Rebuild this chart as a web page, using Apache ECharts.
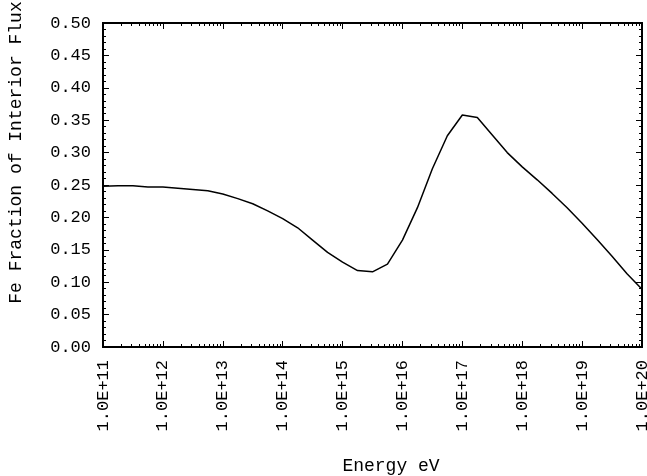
<!DOCTYPE html>
<html>
<head>
<meta charset="utf-8">
<script src="https://cdn.jsdelivr.net/npm/echarts@6/dist/echarts.min.js"></script>
<style>
  html, body { margin: 0; padding: 0; background: #fff; }
  #chart { width: 647px; height: 476px; }
</style>
</head>
<body>
<div id="chart"></div>
<script>
// energies (eV), quarter-decade sampling
const energies = [
  1e11, 1.78e11, 3.16e11, 5.62e11,
  1e12, 1.78e12, 3.16e12, 5.62e12,
  1e13, 1.78e13, 3.16e13, 5.62e13,
  1e14, 1.78e14, 3.16e14, 5.62e14,
  1e15, 1.78e15, 3.16e15, 5.62e15,
  1e16, 1.78e16, 3.16e16, 5.62e16,
  1e17, 1.78e17, 3.16e17, 5.62e17,
  1e18, 1.78e18, 3.16e18, 5.62e18,
  1e19, 1.78e19, 3.16e19, 5.62e19,
  1e20
]
const feFraction = [
  0.248, 0.249, 0.249, 0.247,
  0.247, 0.245, 0.243, 0.241,
  0.236, 0.229, 0.221, 0.210,
  0.198, 0.184, 0.165, 0.146,
  0.131, 0.118, 0.116, 0.128,
  0.165, 0.215, 0.275, 0.326,
  0.358, 0.354, 0.327, 0.300,
  0.278, 0.258, 0.237, 0.215,
  0.191, 0.166, 0.140, 0.113,
  0.089
]
const xTicks = [1e11, 1e12, 1e13, 1e14, 1e15, 1e16, 1e17, 1e18, 1e19, 1e20]
const yTicks = [0, 0.05, 0.1, 0.15, 0.2, 0.25, 0.3, 0.35, 0.4, 0.45, 0.5]

// log minor ticks at 2..9 of each decade
let xMinor = []
xTicks.slice(0, -1).forEach(d => {
  for (let k = 2; k <= 9; k++) xMinor.push(k * d)
})

const font = 'Liberation Mono, Courier New, monospace'
const black = '#000'

function xAxisBase(pos, ticks, len, withLabels) {
  return {
    type: 'log',
    position: pos,
    min: xTicks[0],
    max: xTicks[xTicks.length - 1],
    axisLine: { show: true, lineStyle: { color: black, width: 2 } },
    axisTick: { show: true, inside: true, length: len, customValues: ticks, lineStyle: { color: black, width: 1 } },
    axisLabel: withLabels ? {
      show: true,
      customValues: xTicks,
      rotate: 90,
      margin: 13,
      color: black,
      fontFamily: font,
      fontSize: 17,
      formatter: v => '1.0E+' + Math.round(Math.log10(v))
    } : { show: false },
    splitLine: { show: false }
  }
}

function yAxisBase(pos, withLabels) {
  return {
    type: 'value',
    position: pos,
    min: yTicks[0],
    max: yTicks[yTicks.length - 1],
    interval: 0.05,
    axisLine: { show: true, lineStyle: { color: black, width: 2 } },
    axisTick: { show: true, inside: true, length: 6, lineStyle: { color: black, width: 1 } },
    minorTick: { show: true, splitNumber: 5, length: 3, lineStyle: { color: black, width: 1 } },
    axisLabel: withLabels ? {
      show: true,
      margin: 12,
      color: black,
      fontFamily: font,
      fontSize: 17,
      formatter: v => v.toFixed(2)
    } : { show: false },
    splitLine: { show: false }
  }
}

const bottomMajor = xAxisBase('bottom', xTicks, 6, true)
bottomMajor.name = 'Energy eV'
bottomMajor.nameLocation = 'middle'
bottomMajor.nameGap = 110
bottomMajor.nameTextStyle = { color: black, fontFamily: font, fontSize: 18, padding: [0, 0, 0, 37] }

const leftAxis = yAxisBase('left', true)
leftAxis.name = 'Fe Fraction of Interior Flux'
leftAxis.nameLocation = 'middle'
leftAxis.nameGap = 78
leftAxis.nameTextStyle = { color: black, fontFamily: font, fontSize: 18, padding: [0, 0, 0, 65] }

const option = {
  animation: false,
  backgroundColor: '#fff',
  grid: { left: 103, right: 5, top: 23, bottom: 129, outerBoundsMode: 'none' },
  xAxis: [
    bottomMajor,
    xAxisBase('bottom', xMinor, 3, false),
    xAxisBase('top', xTicks, 6, false),
    xAxisBase('top', xMinor, 3, false)
  ],
  yAxis: [leftAxis, yAxisBase('right', false)],
  series: [{
    type: 'line',
    data: energies.map((e, i) => [e, feFraction[i]]),
    showSymbol: false,
    lineStyle: { color: black, width: 1.5 },
    xAxisIndex: 0,
    yAxisIndex: 0
  }]
}

const chart = echarts.init(document.getElementById('chart'))
chart.setOption(option)
</script>
</body>
</html>
